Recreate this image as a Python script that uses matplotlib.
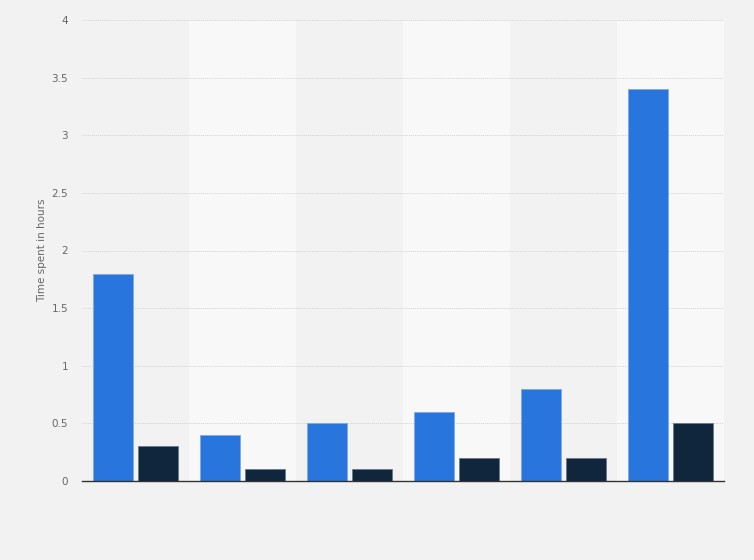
import numpy as np
import matplotlib.pyplot as plt

# Chart data
groups = ["1", "2", "3", "4", "5", "6"]
series_a = [1.8, 0.4, 0.5, 0.6, 0.8, 3.4]
series_b = [0.3, 0.1, 0.1, 0.2, 0.2, 0.5]
y_ticks = [0, 0.5, 1, 1.5, 2, 2.5, 3, 3.5, 4]
y_tick_labels = ["0", "0.5", "1", "1.5", "2", "2.5", "3", "3.5", "4"]

BG = "#f2f2f2"
BAND = "#f8f8f8"
BLUE = "#2876dd"
NAVY = "#10263d"

fig = plt.figure(figsize=(7.54, 5.6), dpi=100, facecolor=BG)
ax = fig.add_axes([82 / 754, 1 - 481 / 560, 642 / 754, 461 / 560])
ax.set_facecolor(BG)

x = np.arange(len(groups))
width = 0.374
offset = 0.21

# alternating column bands
for i in x:
    if i % 2 == 1:
        ax.axvspan(i - 0.5, i + 0.5, color=BAND, zorder=0, lw=0)

ax.bar(x - offset, series_a, width, color=BLUE, edgecolor="#7fa9e6",
       linewidth=0.6, zorder=3)
ax.bar(x + offset, series_b, width, color=NAVY, edgecolor="#6b7a88",
       linewidth=0.6, zorder=3)

ax.set_xlim(-0.5, len(groups) - 0.5)
ax.set_ylim(0, 4)
ax.set_yticks(y_ticks)
ax.set_yticklabels(y_tick_labels)
ax.set_xticks([])
ax.grid(axis="y", color="#d2d2d2", linestyle=(0, (1, 1)), linewidth=0.7, zorder=1)
ax.set_axisbelow(True)

for s in ["top", "right", "left"]:
    ax.spines[s].set_visible(False)
ax.spines["bottom"].set_color("#333333")
ax.spines["bottom"].set_linewidth(1.0)
ax.spines["bottom"].set_zorder(4)

ax.tick_params(axis="y", length=0, pad=10, labelsize=7.5, labelcolor="#666666")
ax.set_ylabel("Time spent in hours", fontsize=7.5, color="#666666", labelpad=3)

fig.savefig("out.png", dpi=100, facecolor=BG)
